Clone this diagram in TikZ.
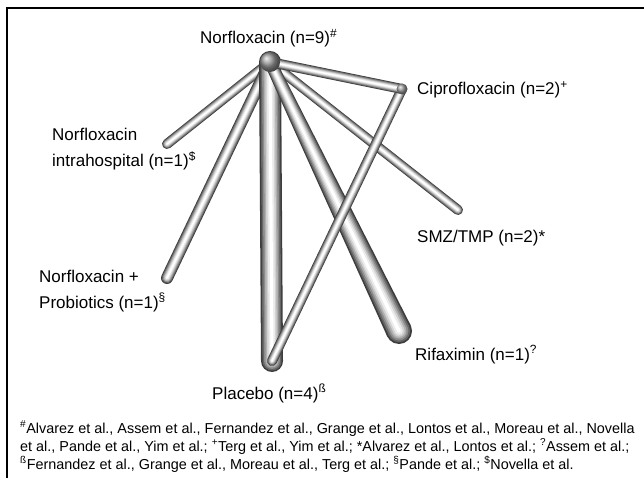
\documentclass[tikz,border=0pt]{standalone}
\usepackage{fontspec}
\setmainfont{Liberation Sans}
\usetikzlibrary{calc}

\tikzset{
	tube/.style={line cap=round, line width=#1, draw=black!76,
		postaction={draw=black!60, line width=0.86*#1},
		postaction={draw=black!45, line width=0.72*#1},
		postaction={draw=black!31, line width=0.58*#1},
		postaction={draw=black!18, line width=0.44*#1},
		postaction={draw=black!8, line width=0.3*#1},
		postaction={draw=white, line width=0.14*#1}},
	lbl/.style={anchor=base west, inner sep=0pt, align=left,
		font=\fontsize{17}{26}\selectfont},
	knob/.style={shading=ball, ball color=black!40},
}
% tube that widens from #1 to #2 (half widths #3 and #4)
\newcommand{\taper}[4]{%
	\foreach \f/\c in {1/76,0.86/60,0.72/45,0.58/31,0.44/18,0.3/8,0.14/0}{
		\fill[black!\c] ($(#1)!\f*#3!90:(#2)$) -- ($(#2)!\f*#4!-90:(#1)$)
			-- ($(#2)!\f*#4!90:(#1)$) -- ($(#1)!\f*#3!-90:(#2)$) -- cycle;
		\fill[black!\c] (#2) circle ({\f*#4});
	}}

\begin{document}
\begin{tikzpicture}[x=1pt, y=-1pt]
	\useasboundingbox (0,0) rectangle (644,478);
	\draw[line width=2pt] (7,478) -- (7,8) -- (644,8);

	% ends of the tubes
	\coordinate (norf)   at (270,62);
	\coordinate (cipro)  at (402,89);
	\coordinate (hosp)   at (167,144);
	\coordinate (probio) at (167,278);
	\coordinate (smz)    at (458,210);
	\coordinate (rifax)  at (399,331);
	\coordinate (plac)   at (272,361);

	% tubes, width ~ number of trials
	\draw[tube=10pt] (norf) -- (hosp);
	\draw[tube=12pt] (norf) -- (probio);
	\draw[tube=10pt] (norf) -- (smz);
	\draw[tube=22pt] (norf) -- (plac);
	\taper{norf}{rifax}{6pt}{13pt}
	\draw[tube=10pt] (cipro) -- (plac);
	\draw[tube=10pt] (norf) -- (cipro);
	\shade[knob] (norf) circle (10pt);
	\shade[knob] (cipro) circle (5.5pt);

	% labels
	\node[lbl] (lnorf)   at (200,44)  {Norfloxacin (n=9)\textsuperscript{\#}};
	\node[lbl] (lcipro)  at (417,95)  {Ciprofloxacin (n=2)\textsuperscript{+}};
	\node[lbl] (lhosp)   at (52,167)  {Norfloxacin\\intrahospital (n=1)\textsuperscript{\$}};
	\node[lbl] (lprobio) at (39,308)  {Norfloxacin +\\Probiotics (n=1)\textsuperscript{§}};
	\node[lbl] (lsmz)    at (417,242) {SMZ/TMP (n=2)*};
	\node[lbl] (lrifax)  at (415,360) {Rifaximin (n=1)\textsuperscript{?}};
	\node[lbl] (lplac)   at (212,399) {Placebo (n=4)\textsuperscript{ß}};

	% footnote
	\node[anchor=base west, inner sep=0pt, align=left,
		font=\fontsize{14.4}{18}\selectfont] (refs) at (20,469)
		{\textsuperscript{\#}Alvarez et al., Assem et al., Fernandez et al., Grange et al., Lontos et al., Moreau et al., Novella\\
		et al., Pande et al., Yim et al.; \textsuperscript{+}Terg et al., Yim et al.; *Alvarez et al., Lontos et al.; \textsuperscript{?}Assem et al.;\\
		\textsuperscript{ß}Fernandez et al., Grange et al., Moreau et al., Terg et al.; \textsuperscript{§}Pande et al.; \textsuperscript{\$}Novella et al.};
\end{tikzpicture}
\end{document}
